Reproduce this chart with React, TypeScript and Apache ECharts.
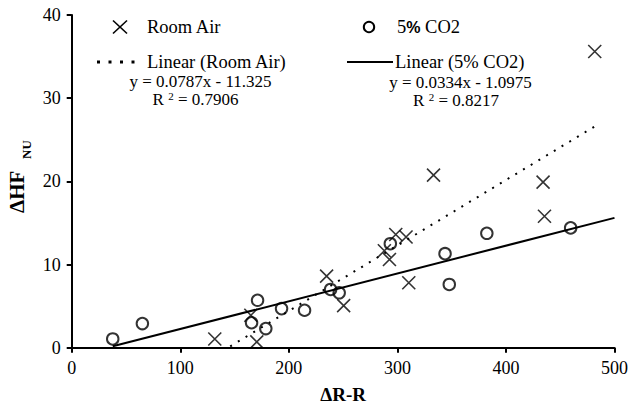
import React, { useEffect, useRef } from 'react';
import * as echarts from 'echarts';

// Room Air points (ΔR-R, ΔHF NU)
const roomAirX = [131.8, 170.5, 165, 234.8, 250.5, 288, 292.7, 298.5, 308, 310.5, 333.3, 434.2, 435.5, 481.8];
const roomAirY = [1.05, 0.7, 3.9, 8.6, 5.05, 11.65, 10.6, 13.6, 13.3, 7.8, 20.75, 19.9, 15.8, 35.6];

// 5% CO2 points
const co2X = [37.8, 65.1, 165.7, 171.2, 178.8, 193.3, 214.5, 238.5, 246.4, 293.5, 343.9, 347.8, 382.4, 459.6];
const co2Y = [1.05, 2.9, 3.0, 5.7, 2.3, 4.7, 4.5, 7.0, 6.6, 12.5, 11.3, 7.6, 13.75, 14.4];

// Linear trendlines (Excel)
const roomAirSlope = 0.0787;
const roomAirIntercept = -11.325;
const co2Slope = 0.0334;
const co2Intercept = -1.0975;

const xTicks = [0, 100, 200, 300, 400, 500];
const yTicks = [0, 10, 20, 30, 40];

const SERIF = 'Liberation Serif';
const SANS = 'Liberation Sans';

export default function App() {
  const ref = useRef<HTMLDivElement>(null);

  useEffect(() => {
    if (!ref.current) return;
    const chart = echarts.init(ref.current, undefined, { renderer: 'svg' });

    const raMin = Math.min(...roomAirX);
    const raMax = Math.max(...roomAirX);
    const raLine = [raMin, raMax].map((x) => [x, roomAirSlope * x + roomAirIntercept]);
    const coMin = Math.min(...co2X);
    const coMax = xTicks[xTicks.length - 1];
    const coLine = [coMin, coMax].map((x) => [x, co2Slope * x + co2Intercept]);

    const legendText = { fontFamily: SERIF, fontSize: 18.5, fill: '#000' };
    const eqText = { fontFamily: SERIF, fontSize: 17, fill: '#000' };

    chart.setOption({
      animation: false,
      backgroundColor: '#fff',
      grid: { left: 71.7, right: 9.3, top: 14.9, bottom: 64.3, containLabel: false },
      xAxis: {
        type: 'value',
        min: xTicks[0],
        max: xTicks[xTicks.length - 1],
        interval: 100,
        name: 'ΔR-R',
        nameLocation: 'middle',
        nameGap: 37,
        nameTextStyle: { fontFamily: SERIF, fontSize: 19, fontWeight: 'bold', color: '#000' },
        axisLine: { lineStyle: { color: '#000', width: 2 } },
        axisTick: { length: 5, lineStyle: { color: '#000', width: 2 } },
        splitLine: { show: false },
        axisLabel: { fontFamily: SERIF, fontSize: 18, color: '#000', margin: 11 },
      },
      yAxis: {
        type: 'value',
        min: yTicks[0],
        max: yTicks[yTicks.length - 1],
        interval: 10,
        axisLine: { show: true, lineStyle: { color: '#000', width: 2 } },
        axisTick: { show: true, length: 5, lineStyle: { color: '#000', width: 2 } },
        splitLine: { show: false },
        axisLabel: { fontFamily: SERIF, fontSize: 18, color: '#000', margin: 11 },
      },
      series: [
        {
          name: 'Room Air',
          type: 'scatter',
          data: roomAirX.map((x, i) => [x, roomAirY[i]]),
          symbol: 'path://M0,0L10,10M10,0L0,10',
          symbolSize: 13,
          itemStyle: { color: '#000', borderColor: '#000', borderWidth: 1.6 },
          z: 2,
        },
        {
          name: '5% CO2',
          type: 'scatter',
          data: co2X.map((x, i) => [x, co2Y[i]]),
          symbol: 'circle',
          symbolSize: 11.5,
          itemStyle: { color: 'rgba(0,0,0,0)', borderColor: '#000', borderWidth: 2 },
          z: 2,
        },
        {
          name: 'Linear (Room Air)',
          type: 'line',
          data: raLine,
          showSymbol: false,
          symbol: 'none',
          clip: true,
          lineStyle: { color: '#000', width: 2, type: [2, 7] },
          z: 3,
        },
        {
          name: 'Linear (5% CO2)',
          type: 'line',
          data: coLine,
          showSymbol: false,
          symbol: 'none',
          clip: true,
          lineStyle: { color: '#000', width: 2 },
          z: 3,
        },
      ],
      graphic: [
        // Legend: Room Air
        { type: 'line', shape: { x1: 113, y1: 20.5, x2: 127, y2: 33.5 }, style: { stroke: '#000', lineWidth: 1.6 } },
        { type: 'line', shape: { x1: 113, y1: 33.5, x2: 127, y2: 20.5 }, style: { stroke: '#000', lineWidth: 1.6 } },
        { type: 'text', x: 147, y: 27, style: { ...legendText, text: 'Room Air', textVerticalAlign: 'middle', textAlign: 'left' } },
        // Legend: 5% CO2
        { type: 'circle', shape: { cx: 369, cy: 27, r: 5.2 }, style: { fill: 'none', stroke: '#000', lineWidth: 2 } },
        {
          type: 'text', x: 397, y: 27,
          style: {
            text: '{a|5}{p|%}{a| CO2}', textVerticalAlign: 'middle', textAlign: 'left',
            rich: {
              a: { fontFamily: SERIF, fontSize: 18.5, fill: '#000' },
              p: { fontFamily: SANS, fontWeight: 'bold', fontSize: 16, fill: '#000' },
            },
          },
        },
        // Legend: Linear (Room Air)
        { type: 'line', shape: { x1: 97, y1: 62, x2: 136, y2: 62 }, style: { stroke: '#000', lineWidth: 3, lineDash: [3, 8.5] } },
        { type: 'text', x: 147, y: 62, style: { ...legendText, text: 'Linear (Room Air)', textVerticalAlign: 'middle', textAlign: 'left' } },
        { type: 'text', x: 200.5, y: 81, style: { ...eqText, text: 'y = 0.0787x - 11.325', textVerticalAlign: 'middle', textAlign: 'center' } },
        {
          type: 'text', x: 195.5, y: 99,
          style: {
            text: '{r|R }{s|2}{r| = 0.7906}', textVerticalAlign: 'middle', textAlign: 'center',
            rich: {
              r: { fontFamily: SERIF, fontSize: 17, fill: '#000' },
              s: { fontFamily: SERIF, fontSize: 11, fill: '#000', verticalAlign: 'top' },
            },
          },
        },
        // Legend: Linear (5% CO2)
        { type: 'line', shape: { x1: 347, y1: 62, x2: 393, y2: 62 }, style: { stroke: '#000', lineWidth: 2 } },
        { type: 'text', x: 395, y: 62, style: { ...legendText, text: 'Linear (5% CO2)', textVerticalAlign: 'middle', textAlign: 'left' } },
        { type: 'text', x: 460.5, y: 82, style: { ...eqText, text: 'y = 0.0334x - 1.0975', textVerticalAlign: 'middle', textAlign: 'center' } },
        {
          type: 'text', x: 456, y: 100,
          style: {
            text: '{r|R }{s|2}{r| = 0.8217}', textVerticalAlign: 'middle', textAlign: 'center',
            rich: {
              r: { fontFamily: SERIF, fontSize: 17, fill: '#000' },
              s: { fontFamily: SERIF, fontSize: 11, fill: '#000', verticalAlign: 'top' },
            },
          },
        },
        // Y axis title ΔHF NU (rotated)
        {
          type: 'group', x: 17, y: 213, rotation: Math.PI / 2,
          children: [
            { type: 'text', x: 0, y: 0, style: { text: 'ΔHF', fontFamily: SERIF, fontSize: 21, fontWeight: 'bold', fill: '#000', textAlign: 'left', textVerticalAlign: 'middle' } },
            { type: 'text', x: 54, y: 9, style: { text: 'NU', fontFamily: SERIF, fontSize: 13, fontWeight: 'bold', fill: '#000', textAlign: 'left', textVerticalAlign: 'middle' } },
          ],
        },
      ],
    });

    return () => chart.dispose();
  }, []);

  return <div ref={ref} style={{ width: 631, height: 412, position: 'absolute', left: 0, top: 0 }} />;
}
